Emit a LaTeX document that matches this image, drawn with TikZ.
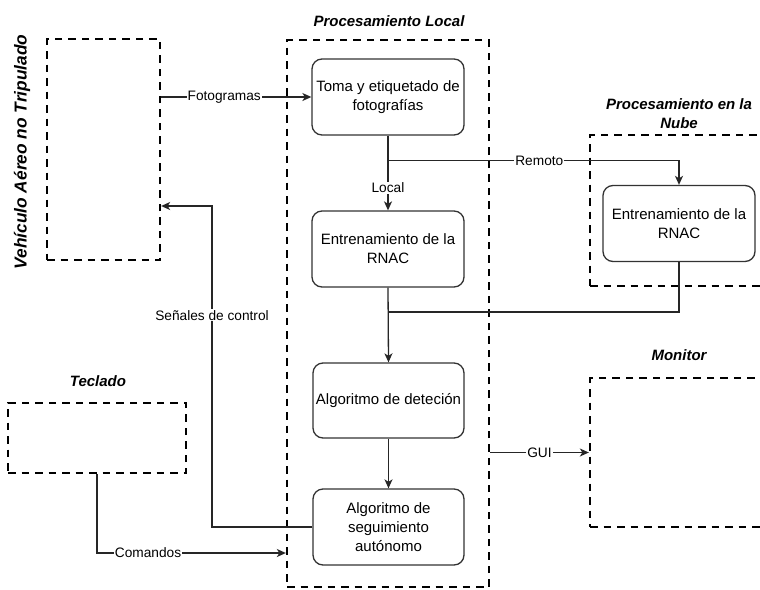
\documentclass[tikz,border=0pt]{standalone}
\usepackage{fontspec}
\setmainfont{Liberation Sans}
\usetikzlibrary{arrows.meta,calc}

\tikzset{
  zone/.style={draw=black, line width=2.3pt, dash pattern=on 7.5pt off 6pt,
    minimum width=#1, inner sep=0pt},
  procbox/.style={draw=black!80, line width=1.3pt, rounded corners=10pt,
    fill=white, align=center, inner sep=2pt,
    minimum width=152pt, minimum height=76pt,
    font=\fontsize{15}{19}\selectfont},
  title/.style={align=center, font=\fontsize{15}{19}\selectfont\bfseries\itshape},
  link/.style={draw=black!85, line width=1.3pt},
  arrowlink/.style={link, -{Stealth[length=9pt,width=8pt,inset=2.5pt]}},
  tag/.style={fill=white, inner sep=1pt, font=\fontsize{13.7}{16}\selectfont}
}

\begin{document}
\begin{tikzpicture}[x=1pt, y=-1pt]
  \clip (0,0) rectangle (760,589);
  \fill[white] (0,0) rectangle (760,589);

  % enclosing zones
  \node[zone=113pt, minimum height=221pt] (uav) at (103.5,149.5) {};
  \node[zone=202pt, minimum height=547pt] (local) at (388,313.5) {};
  \node[zone=190pt, minimum height=151pt] (cloud) at (685,210.5) {};
  \node[zone=178pt, minimum height=70pt] (keys) at (97,438) {};
  \node[zone=190pt, minimum height=149pt] (monitor) at (685,452.5) {};

  % zone titles
  \node[rotate=90, font=\fontsize{17.3}{20}\selectfont\bfseries\itshape]
    (uavtitle) at (22,152) {Vehículo Aéreo no Tripulado};
  \node[title] (localtitle) at (389,21) {Procesamiento Local};
  \node[title] (cloudtitle) at (679,113.5) {Procesamiento en la\\Nube};
  \node[title] (keystitle) at (98,381) {Teclado};
  \node[title] (montitle) at (679,355) {Monitor};

  % processing steps
  \node[procbox] (toma) at (388,97) {Toma y etiquetado de\\fotografías};
  \node[procbox] (trainL) at (388,249) {Entrenamiento de la\\RNAC};
  \node[procbox] (trainC) at (679,223.5) {Entrenamiento de la\\RNAC};
  \node[procbox, minimum width=151pt, minimum height=75pt] (detect) at (388.5,400.5) {Algoritmo de deteción};
  \node[procbox, minimum width=151pt] (track) at (388.5,527) {Algoritmo de\\seguimiento\\autónomo};

  % helper points for branching and joining
  \coordinate (split) at ($(toma.south)+(0,25)$);
  \coordinate (merge) at (detect.north |- 0,312);

  % connectors
  \draw[arrowlink] (uav.east |- toma.west) -- node[tag, pos=0.42] {Fotogramas} (toma.west);
  \draw[link] (toma.south) -- (split);
  \draw[arrowlink] (split) -- node[tag, pos=0.55] {Local} (trainL.north);
  \draw[arrowlink] (split) -- node[tag, pos=0.52] {Remoto} (split -| trainC.north) -- (trainC.north);
  \draw[link] (trainC.south) |- (merge);
  \draw[arrowlink] (trainL.south) -- (detect.north);
  \draw[arrowlink] (detect.south) -- (track.north);
  \draw[arrowlink] (track.west) -| node[tag, pos=0.83] {Señales de control} (212,206) -- (uav.east |- 0,206);
  \draw[arrowlink] (keys.south) |- node[tag, pos=0.635] {Comandos} (local.west |- 0,553);
  \draw[arrowlink] (local.east |- monitor.west) -- node[tag, pos=0.5] {GUI} (monitor.west);
\end{tikzpicture}
\end{document}
